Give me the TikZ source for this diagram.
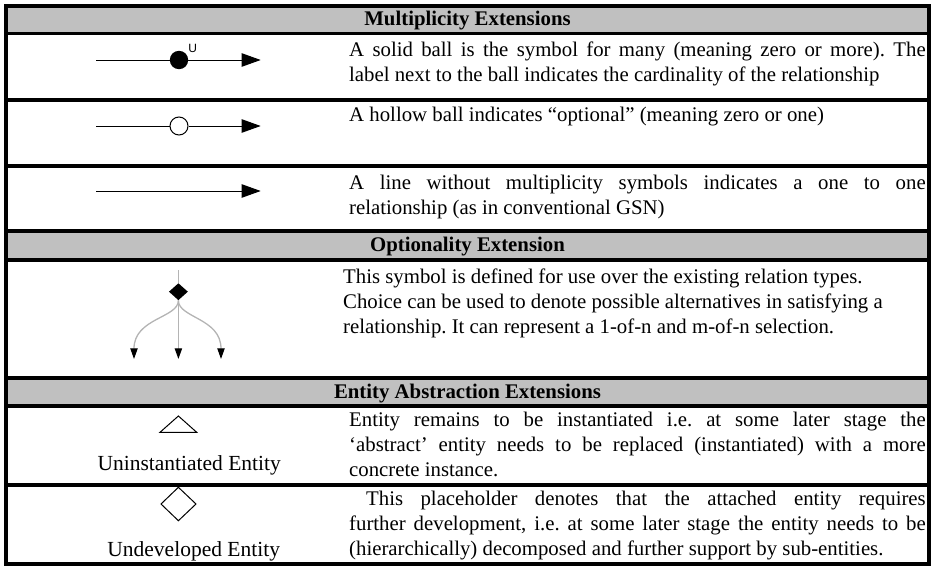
\documentclass[tikz,border=0pt]{standalone}
\usepackage{fontspec}
\setmainfont{Liberation Serif}
\newfontfamily\labelsans{Liberation Sans}
\usetikzlibrary{arrows.meta,shapes.geometric}
\definecolor{headgray}{HTML}{C0C0C0}
\definecolor{branchgray}{HTML}{B4B4B4}
\newcommand{\bodyfont}{\fontsize{20.8}{25}\selectfont}
\newcommand{\desc}[1]{\parbox[t]{576.5pt}{\bodyfont\frenchspacing #1}}
\begin{document}
\begin{tikzpicture}[x=1pt,y=-1pt,
  rule/.style={line width=3.5pt},
  band/.style={fill=headgray,draw=none},
  headtext/.style={font=\bodyfont\bfseries,anchor=base,inner sep=0pt},
  desctext/.style={anchor=base west,inner sep=0pt},
  symlabel/.style={font=\fontsize{21.5}{25}\selectfont,anchor=base,inner sep=0pt},
  link/.style={line width=1pt},
  bigtip/.style={-{Triangle[length=19pt,width=13.4pt]}},
  branch/.style={draw=branchgray,line width=1.3pt,-{Triangle[length=10.7pt,width=7.3pt,color=black]}},
  outline/.style={line width=1pt,line join=miter}
]
\useasboundingbox (0,0) rectangle (937,565);

% grey heading bands
\fill[band] (6,6) rectangle (929,33.5);
\fill[band] (6,231) rectangle (929,260);
\fill[band] (6,378) rectangle (929,406);

% table rules
\draw[rule] (6,6) rectangle (929,564);
\foreach \yy in {33.5,100,166,231,260,378,406,485}
  \draw[rule] (6,\yy) -- (929,\yy);

% headings
\node[headtext] (h1) at (467.5,25) {Multiplicity Extensions};
\node[headtext] (h2) at (467.5,251.5) {Optionality Extension};
\node[headtext] (h3) at (467.5,398) {Entity Abstraction Extensions};

% many: solid ball
\coordinate (m0) at (96,60);
\node[circle,fill=black,inner sep=0pt,minimum size=18.4pt] (mball) at (179,60) {};
\coordinate (m1) at (260.7,60);
\draw[link] (m0) -- (mball);
\draw[link,bigtip] (mball) -- (m1);
\node[font=\labelsans\fontsize{12}{12}\selectfont,inner sep=0pt] (mlab) at (192.8,48.8) {U};

% optional: hollow ball
\coordinate (o0) at (96,126);
\node[circle,draw=black,fill=white,line width=1pt,inner sep=0pt,minimum size=18pt] (oball) at (179,126) {};
\coordinate (o1) at (260.7,126);
\draw[link] (o0) -- (oball);
\draw[link,bigtip] (oball) -- (o1);

% one to one
\coordinate (s0) at (96,191);
\coordinate (s1) at (260.7,191);
\draw[link,bigtip] (s0) -- (s1);

% choice symbol
\coordinate (c0) at (178.4,270);
\node[diamond,fill=black,inner sep=0pt,minimum width=19pt,minimum height=17pt] (choice) at (178.4,291.7) {};
\coordinate (cl) at (134,359);
\coordinate (cm) at (178.4,359);
\coordinate (cr) at (221,359);
\draw[draw=branchgray,line width=1.3pt] (c0) -- (choice.north);
\draw[branch] (choice.south) .. controls (178.4,318) and (134,318) .. (cl);
\draw[branch] (choice.south) -- (cm);
\draw[branch] (choice.south) .. controls (178.4,318) and (221,318) .. (cr);

% uninstantiated entity
\draw[outline] (160,432.3) -- (178.4,416) -- (196.7,432.3) -- cycle;
\node[symlabel] (ulab) at (189.2,470.7) {Uninstantiated Entity};

% undeveloped entity
\draw[outline] (178.4,487.3) -- (196,504) -- (178.4,520.7) -- (161,504) -- cycle;
\node[symlabel] (dlab) at (193.7,556.7) {Undeveloped Entity};

% descriptions
\node[desctext] (t1) at (349,56.5) {\desc{A solid ball is the symbol for many (meaning zero or more). The\linebreak label next to the ball indicates the cardinality of the relationship}};
\node[desctext] (t2) at (349,121.5) {\desc{A hollow ball indicates “optional” (meaning zero or one)}};
\node[desctext] (t3) at (349,189) {\desc{A line without multiplicity symbols indicates a one to one\linebreak relationship (as in conventional GSN)}};
\node[desctext] (t4) at (343,283) {\desc{\raggedright This symbol is defined for use over the existing relation types.\\ Choice can be used to denote possible alternatives in satisfying a\\ relationship. It can represent a 1-of-n and m-of-n selection.}};
\node[desctext] (t5) at (349,426) {\desc{Entity remains to be instantiated i.e. at some later stage the\linebreak ‘abstract’ entity needs to be replaced (instantiated) with a more\linebreak concrete instance.}};
\node[desctext] (t6) at (349,505.5) {\desc{\hspace*{17pt}This placeholder denotes that the attached entity requires\linebreak further development, i.e. at some later stage the entity needs to be\linebreak (hierarchically) decomposed and further support by sub-entities.}};
\end{tikzpicture}
\end{document}
